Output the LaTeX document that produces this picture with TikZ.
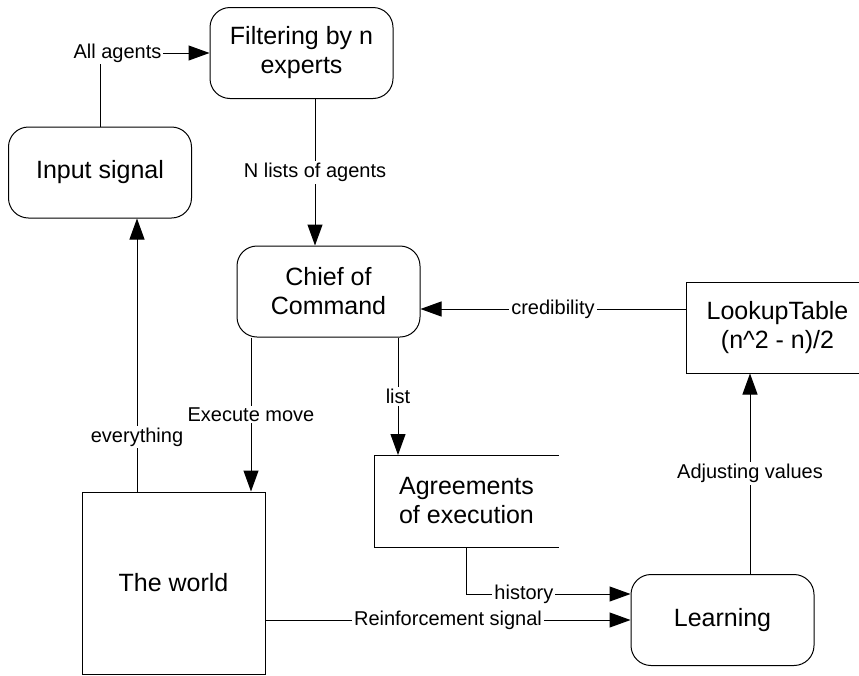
\documentclass[tikz,border=0pt]{standalone}
\usepackage{fontspec}
\setmainfont{Liberation Sans}
\usetikzlibrary{arrows.meta,calc}

\tikzset{
  box/.style={minimum width=183pt, minimum height=91pt, inner sep=0pt,
              align=center, font=\fontsize{25}{29}\selectfont, line width=1pt},
  roundbox/.style={box, draw, rounded corners=20pt},
  plainbox/.style={box, draw},
  lbl/.style={fill=white, inner sep=2pt, font=\fontsize{20}{24}\selectfont},
  conn/.style={line width=1pt},
  arr/.style={conn, -{Triangle[length=21pt, width=15pt]}},
}

\begin{document}
\begin{tikzpicture}[x=1pt, y=-1pt]
  \useasboundingbox (0,0) rectangle (859,675);
  \clip (0,0) rectangle (859,675);

  % blocks
  \node[roundbox] (input)  at (100,172.5) {Input signal};
  \node[roundbox] (filter) at (301.5,53)  {Filtering by n\\experts};
  \node[roundbox] (chief)  at (328.5,291.5) {Chief of\\Command};
  \node[plainbox] (lookup) at (777.5,327.5) {LookupTable\\(n\textasciicircum 2 - n)/2};
  \node[box]      (agree)  at (466.5,501) {Agreements\\of execution};
  \draw[line width=1pt] (agree.north east) -- (agree.north west)
                        -- (agree.south west) -- (agree.south east);
  \node[plainbox, minimum height=182pt] (world) at (173.5,583) {The world};
  \node[roundbox] (learn)  at (722.5,620) {Learning};

  % connectors
  \draw[arr] (input.north) |- node[lbl, pos=0.58] {All agents} (filter.west);

  \draw[arr] ([xshift=13.5pt]filter.south) --
             node[lbl] {N lists of agents} ([xshift=-13.5pt]chief.north);

  \coordinate (cred) at ([yshift=18.5pt]lookup.west);
  \draw[arr] (cred) -- node[lbl] {credibility} (chief.east |- cred);

  \coordinate (adj) at ([xshift=27.5pt]learn.north);
  \draw[arr] (adj) -- node[lbl] {Adjusting values} (lookup.south -| adj);

  \draw[arr] ([xshift=-77.5pt]chief.south) --
             node[lbl] {Execute move} ([xshift=77.5pt]world.north);

  \draw[arr] ([xshift=-36.5pt]world.north) --
             node[lbl, pos=0.2] {everything} ([xshift=37pt]input.south);

  \draw[arr] ([xshift=69.5pt]chief.south) --
             node[lbl] {list} ([xshift=-68.5pt]agree.north);

  \draw[arr] (agree.south) |- node[lbl, pos=0.675] {history} ([yshift=26pt]learn.west);

  \draw[arr] ([yshift=-37pt]world.east) --
             node[lbl] {Reinforcement signal} (learn.west);
\end{tikzpicture}
\end{document}
